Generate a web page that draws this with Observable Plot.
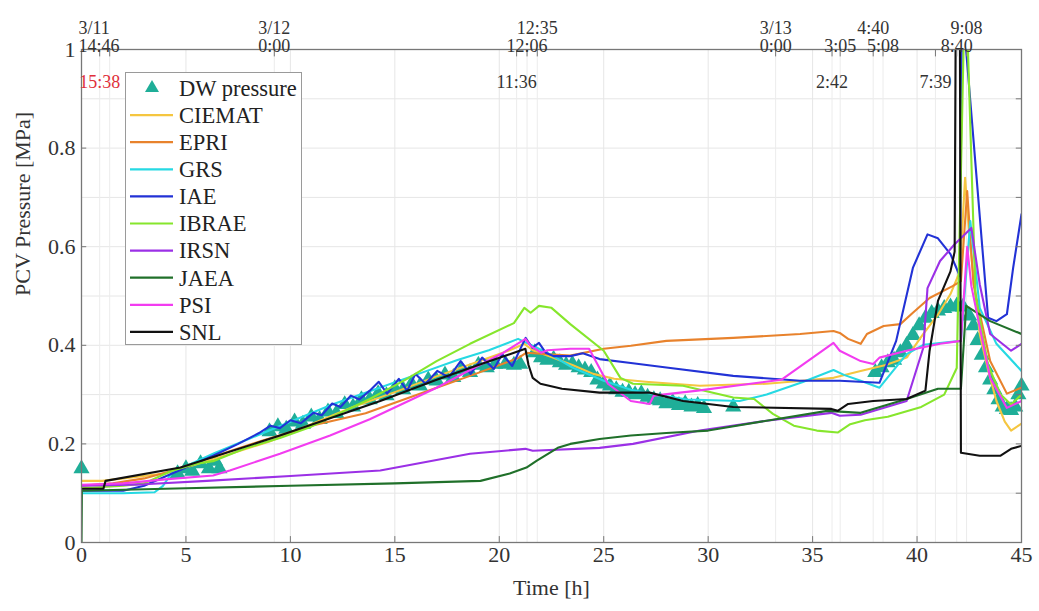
<!DOCTYPE html>
<html>
<head>
<meta charset="utf-8">
<script src="https://cdn.jsdelivr.net/npm/d3@7"></script>
<script src="https://cdn.jsdelivr.net/npm/@observablehq/plot@0.6"></script>
<style>
  body { margin: 0; background: #fff; }
  #chart { position: relative; width: 1039px; height: 611px; }
  #legend { position: absolute; left: 0; top: 0; pointer-events: none; }
</style>
</head>
<body>
<div id="chart"></div>
<script>
// Measured drywell pressure (hours after 3/11 14:46, MPa)
const dwPressure = [
  [0,0.15],
  [4.6,0.14],[5.0,0.15],[5.3,0.145],[5.7,0.16],[6.1,0.15],[6.4,0.165],[6.6,0.15],
  [9.0,0.225],[9.4,0.235],[9.8,0.23],[10.2,0.245],[10.6,0.24],[11.0,0.255],[11.4,0.25],[11.8,0.265],
  [12.2,0.262],[12.6,0.28],[13.0,0.275],[13.4,0.29],[13.8,0.29],[14.2,0.302],[14.6,0.298],[15.0,0.312],
  [15.4,0.31],[15.8,0.322],[16.2,0.318],[16.6,0.33],[17.0,0.328],[17.4,0.34],[17.8,0.335],[18.2,0.35],
  [18.6,0.345],[19.0,0.36],[19.4,0.355],[19.8,0.362],[20.3,0.362],[20.7,0.36],[21.0,0.362],
  [21.7,0.385],[22.0,0.375],[22.3,0.37],[22.6,0.372],[22.9,0.365],[23.2,0.36],[23.5,0.362],[23.8,0.355],
  [24.1,0.35],[24.4,0.345],[24.7,0.33],[25.0,0.322],[25.3,0.318],[25.6,0.31],[25.9,0.305],[26.2,0.305],
  [26.5,0.3],[26.8,0.302],[27.1,0.295],[27.4,0.29],[27.7,0.288],[28.0,0.282],[28.3,0.285],[28.6,0.278],
  [28.9,0.282],[29.2,0.275],[29.5,0.278],[29.8,0.272],[31.2,0.275],
  [38.0,0.345],[38.3,0.355],[38.6,0.365],[38.9,0.37],[39.2,0.385],[39.5,0.4],[39.8,0.42],[40.1,0.44],
  [40.4,0.455],[40.7,0.465],[41.0,0.47],[41.3,0.475],[41.6,0.478],[41.9,0.48],[42.2,0.478],
  [42.5,0.46],[42.7,0.44],[42.9,0.41],[43.1,0.38],[43.3,0.355],[43.5,0.33],[43.7,0.31],[43.9,0.29],
  [44.1,0.275],[44.3,0.27],[44.5,0.268],[44.7,0.275],[44.85,0.3],[45.0,0.318]
];

// Code predictions of PCV pressure (hours, MPa)
const ciemat = [[0,0.125],[1,0.125],[2,0.13],[4,0.14],[5,0.152],[7,0.178],[9,0.205],[11,0.24],[13,0.275],[15,0.305],[17,0.337],[19,0.367],[20.5,0.39],[21.2,0.403],[21.6,0.39],[22.5,0.376],[23.5,0.36],[24.5,0.342],[25.5,0.332],[27,0.326],[29.6,0.318],[31,0.32],[32.8,0.322],[34.5,0.328],[36,0.334],[37.3,0.348],[38.5,0.36],[39.5,0.375],[40.3,0.423],[41,0.462],[41.6,0.504],[42.05,0.55],[42.3,0.74],[42.5,0.62],[43,0.423],[43.4,0.35],[43.8,0.287],[44.2,0.245],[44.5,0.227],[45,0.241]];

const epri = [[0,0.115],[1.5,0.12],[3,0.13],[4.3,0.145],[6,0.17],[8.6,0.206],[11,0.237],[13.6,0.262],[17,0.314],[18.6,0.338],[20.9,0.374],[21.3,0.385],[22,0.383],[23.4,0.379],[25,0.393],[26.3,0.399],[28,0.409],[31.2,0.415],[34.4,0.423],[36,0.429],[36.3,0.425],[36.7,0.413],[37.3,0.403],[37.6,0.423],[38.4,0.439],[39.2,0.443],[39.8,0.466],[40.6,0.496],[41.7,0.52],[42.1,0.53],[42.4,0.713],[42.7,0.524],[43.5,0.368],[44.3,0.302],[45,0.314]];

const grs = [[0,0.1],[2,0.1],[3.5,0.102],[3.9,0.115],[4.3,0.14],[5,0.155],[6.3,0.18],[8,0.21],[10,0.245],[12,0.28],[14,0.31],[16,0.34],[18,0.37],[19.5,0.39],[20.9,0.413],[21.3,0.405],[21.8,0.395],[22.5,0.38],[23.5,0.355],[25,0.328],[26.3,0.31],[27.5,0.3],[29,0.29],[31.5,0.287],[32.8,0.3],[34.5,0.325],[36,0.35],[36.5,0.34],[37.3,0.328],[38.2,0.314],[39.5,0.382],[40.3,0.401],[42.1,0.409],[42.55,0.652],[43.0,0.476],[43.8,0.403],[45,0.348]];

const iae = [[0,0.105],[2,0.105],[3,0.115],[3.9,0.132],[5,0.152],[6.3,0.176],[7.5,0.2],[8.5,0.222],[9.05,0.237],[9.5,0.232],[10,0.248],[10.5,0.242],[11.1,0.263],[11.5,0.258],[12.0,0.282],[12.4,0.275],[12.9,0.298],[13.3,0.29],[13.8,0.308],[14.23,0.326],[14.63,0.302],[15.19,0.332],[15.59,0.308],[15.99,0.342],[16.47,0.322],[17.03,0.348],[17.59,0.335],[18.15,0.368],[18.63,0.342],[19.18,0.375],[19.74,0.352],[20.14,0.382],[20.62,0.358],[21.26,0.415],[21.58,0.395],[21.9,0.405],[22.22,0.385],[22.6,0.378],[23.4,0.378],[24,0.384],[24.8,0.372],[26.3,0.364],[28,0.355],[31.2,0.338],[34.4,0.328],[36.3,0.328],[38.2,0.324],[39.0,0.409],[39.8,0.557],[40.5,0.625],[41.0,0.617],[41.6,0.585],[42.05,0.54],[42.15,1.05],[42.25,1.05],[43.4,0.456],[43.8,0.449],[44.3,0.463],[44.6,0.557],[45,0.666]];

const ibrae = [[0,0.11],[2,0.115],[3,0.12],[4.3,0.145],[5.5,0.16],[6.3,0.165],[7.9,0.192],[9.5,0.212],[11,0.235],[12.5,0.265],[13.8,0.291],[15.5,0.33],[17,0.368],[18.6,0.403],[20.7,0.445],[21.2,0.476],[21.5,0.466],[21.9,0.48],[22.5,0.476],[23.4,0.443],[25,0.389],[25.8,0.334],[26.4,0.322],[28.8,0.318],[31.2,0.294],[32.2,0.291],[33.1,0.261],[34.1,0.237],[35.2,0.227],[36.2,0.223],[36.8,0.24],[37.5,0.248],[38.6,0.255],[40.2,0.275],[41.3,0.3],[41.9,0.354],[42.25,1.05],[42.4,1.05],[42.8,0.5],[43.4,0.36],[44.0,0.3],[44.5,0.28],[45,0.3]];

const irsn = [[0,0.115],[3,0.118],[6,0.125],[10,0.135],[14.3,0.146],[18.6,0.18],[21.25,0.19],[21.6,0.186],[24.8,0.192],[26.4,0.2],[29.6,0.227],[32.8,0.247],[35.9,0.263],[36.3,0.257],[37.3,0.259],[38.7,0.277],[39.5,0.287],[40.3,0.395],[40.5,0.516],[41.1,0.571],[41.8,0.605],[42.6,0.638],[43,0.524],[43.5,0.423],[44.5,0.389],[45,0.403]];

const jaea = [[0,0],[0.02,0.105],[5,0.11],[10,0.115],[15,0.12],[19.1,0.125],[20.5,0.14],[21.3,0.152],[21.8,0.166],[22.8,0.192],[23.4,0.2],[24.8,0.21],[26.3,0.217],[28,0.222],[30,0.227],[32.8,0.247],[35.7,0.267],[37.3,0.263],[39.5,0.291],[41,0.312],[42.1,0.312],[42.35,0.48],[43.5,0.449],[45,0.423]];

const psi = [[0,0.117],[2,0.12],[4,0.128],[6.3,0.136],[7.1,0.146],[9.5,0.18],[11.9,0.217],[13.8,0.25],[17,0.314],[18.6,0.35],[20.2,0.385],[21.25,0.413],[21.5,0.399],[22,0.385],[22.3,0.39],[23.4,0.393],[24.3,0.393],[25.2,0.322],[26.3,0.287],[27.2,0.281],[27.4,0.298],[29.5,0.308],[33.5,0.33],[36,0.405],[36.3,0.389],[37.3,0.368],[37.9,0.362],[38.2,0.375],[39.5,0.389],[41.1,0.403],[42.1,0.409],[42.4,0.6],[42.6,0.52],[43.5,0.334],[44.3,0.273],[45,0.287]];

const snl = [[0,0.109],[1.05,0.109],[1.15,0.125],[4.74,0.152],[9.5,0.217],[14.3,0.287],[17,0.33],[19,0.36],[21.25,0.393],[21.4,0.36],[21.6,0.334],[21.97,0.322],[23,0.312],[24.8,0.304],[27.2,0.304],[28.8,0.287],[31.2,0.275],[35.9,0.271],[36.2,0.267],[36.7,0.281],[37.9,0.287],[39.5,0.291],[40.4,0.308],[40.6,0.389],[41.0,0.49],[41.6,0.55],[41.8,0.59],[41.85,1.05],[42.05,1.05],[42.1,0.182],[43,0.176],[44,0.176],[44.5,0.19],[45,0.196]];

const seriesNames = ["CIEMAT", "EPRI", "GRS", "IAE", "IBRAE", "IRSN", "JAEA", "PSI", "SNL"];
const seriesColors = ["#f5c640", "#e8822c", "#26d9e3", "#2232d6", "#86e62c", "#9b30e6", "#20702a", "#f23cf0", "#111111"];
const seriesData = [ciemat, epri, grs, iae, ibrae, irsn, jaea, psi, snl];
const dwColor = "#1fae98";

// Axis ticks and event times (hours after 3/11 14:46)
const xTicks = [0, 5, 10, 15, 20, 25, 30, 35, 40, 45];
const yTicks = [0, 0.2, 0.4, 0.6, 0.8, 1];
const yGrid = [0.1, 0.2, 0.3, 0.4, 0.5, 0.6, 0.7, 0.8, 0.9];
const eventHours = [0.87, 1.35, 9.23, 20.83, 21.33, 21.82, 33.23, 35.93, 36.32, 37.9, 38.37, 40.88, 41.9, 42.37];
const upperLabels = [
  {t: 0, label: "3/11"}, {t: 9.23, label: "3/12"}, {t: 21.82, label: "12:35"},
  {t: 33.23, label: "3/13"}, {t: 37.9, label: "4:40"}, {t: 42.37, label: "9:08"}
];
const lowerLabels = [
  {t: 0, label: "14:46"}, {t: 9.23, label: "0:00"}, {t: 21.33, label: "12:06"},
  {t: 33.23, label: "0:00"}, {t: 36.32, label: "3:05"}, {t: 38.37, label: "5:08"}, {t: 41.9, label: "8:40"}
];
const innerLabels = [
  {t: 0.87, label: "15:38", highlight: true}, {t: 20.83, label: "11:36"},
  {t: 35.93, label: "2:42"}, {t: 40.88, label: "7:39"}
];

const lineRows = seriesData.flatMap((pts, i) => pts.map(([t, p]) => ({name: seriesNames[i], t, p})));

const serif = "'Liberation Serif', 'Times New Roman', serif";
const atStart = d => d.t === 0;
const notStart = d => d.t !== 0;

const chart = Plot.plot({
  width: 1039,
  height: 611,
  marginLeft: 81,
  marginRight: 18,
  marginTop: 49,
  marginBottom: 69,
  style: {fontFamily: serif, background: "#fff", color: "#333", overflow: "visible"},
  x: {domain: [0, 45]},
  y: {domain: [0, 1]},
  color: {domain: seriesNames, range: seriesColors},
  marks: [
    // light grid
    Plot.ruleY(yGrid, {stroke: "#e6e6e6", strokeWidth: 1}),
    Plot.ruleX(xTicks.slice(1, -1), {stroke: "#e6e6e6", strokeWidth: 1}),
    Plot.ruleX(eventHours, {stroke: "#ececec", strokeWidth: 1}),

    // measured drywell pressure
    Plot.dot(dwPressure, {x: d => d[0], y: d => d[1], symbol: "triangle", r: 6, fill: dwColor, stroke: "none"}),

    // code results
    Plot.line(lineRows, {x: "t", y: "p", z: "name", stroke: "name", strokeWidth: 2.1, clip: true}),

    // frame and inward ticks
    Plot.frame({stroke: "#777", strokeWidth: 1.3}),
    Plot.ruleX(xTicks, {y1: 0, y2: 0.012, stroke: "#777"}),
    Plot.ruleX(eventHours, {y1: 1, y2: 0.985, stroke: "#777"}),
    Plot.ruleY(yTicks, {x1: 0, x2: 0.25, stroke: "#777"}),
    Plot.ruleY(yGrid, {x1: 44.75, x2: 45, stroke: "#777"}),

    // axes
    Plot.axisX({ticks: xTicks, tickSize: 0, tickPadding: 4, label: null, fontSize: 22, tickFormat: d3.format("~g")}),
    Plot.axisY({ticks: yTicks, tickSize: 0, tickPadding: 6, label: null, fontSize: 22, tickFormat: d3.format("~g")}),
    Plot.text(["Time [h]"], {frameAnchor: "bottom", dy: 52, fontSize: 22}),
    Plot.text(["PCV Pressure [MPa]"], {frameAnchor: "left", rotate: -90, dx: -59, fontSize: 22}),

    // event time labels along the top; the first date sits just right of the axis corner
    Plot.text(upperLabels.filter(notStart), {x: "t", text: "label", frameAnchor: "top", dy: -28, fontSize: 18}),
    Plot.text(lowerLabels.filter(notStart), {x: "t", text: "label", frameAnchor: "top", dy: -10, fontSize: 18}),
    Plot.text(upperLabels.filter(atStart), {x: "t", text: "label", frameAnchor: "top", dy: -28, dx: -3, fontSize: 18, textAnchor: "start"}),
    Plot.text(lowerLabels.filter(atStart), {x: "t", text: "label", frameAnchor: "top", dy: -10, dx: -3, fontSize: 18, textAnchor: "start"}),
    Plot.text(innerLabels, {x: "t", text: "label", frameAnchor: "top", dy: 26, fontSize: 18,
      fill: d => d.highlight ? "#e0303a" : "#333"})
  ]
});

const container = document.getElementById("chart");
container.appendChild(chart);

// Legend box
const legendItems = [{name: "DW pressure", color: dwColor, marker: true}]
  .concat(seriesNames.map((n, i) => ({name: n, color: seriesColors[i], marker: false})));

const lg = d3.select(container).append("svg")
  .attr("id", "legend")
  .attr("width", 1039)
  .attr("height", 611);

lg.append("rect")
  .attr("x", 125.5).attr("y", 72.5)
  .attr("width", 176).attr("height", 272)
  .attr("fill", "#fff").attr("stroke", "#9a9a9a");

const rowStep = 27.1;
const rows = lg.selectAll("g.row").data(legendItems).join("g")
  .attr("class", "row")
  .attr("transform", (d, i) => `translate(0,${88 + i * rowStep})`);

rows.filter(d => d.marker).append("path")
  .attr("d", d3.symbol(d3.symbolTriangle2, 140)())
  .attr("transform", "translate(152,0)")
  .attr("fill", d => d.color);

rows.filter(d => !d.marker).append("line")
  .attr("x1", 130).attr("x2", 173)
  .attr("stroke", d => d.color).attr("stroke-width", 2.2);

rows.append("text")
  .attr("x", 179).attr("dy", "0.35em")
  .attr("font-family", serif).attr("font-size", 22.5).attr("fill", "#222")
  .text(d => d.name);
</script>
</body>
</html>
